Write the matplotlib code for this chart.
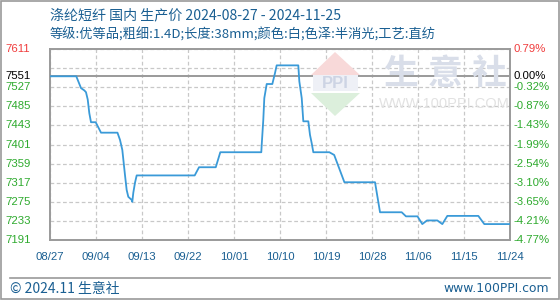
import matplotlib
matplotlib.use("Agg")
import matplotlib.pyplot as plt
import matplotlib.transforms as mtrans
from matplotlib.patches import Polygon, Rectangle
from matplotlib.lines import Line2D

# ---------------- data ----------------
title = "涤纶短纤 国内 生产价 2024-08-27 - 2024-11-25"
subtitle = "等级:优等品;粗细:1.4D;长度:38mm;颜色:白;色泽:半消光;工艺:直纺"

x_labels = ["08/27", "09/04", "09/13", "09/22", "10/01", "10/10",
            "10/19", "10/28", "11/06", "11/15", "11/24"]

# positions along the axis (axis runs 0 .. 90, one tick every 9 units)
pos = [0, 5.14, 6.07, 6.71, 7.04, 7.38, 7.69, 8.02, 8.94, 9.98, 13.2,
       13.7, 14.15, 14.67, 15.0, 15.32, 15.99, 16.1, 16.3, 16.63, 16.96,
       28.31, 29.16, 32.43, 33.32, 41.34, 41.42, 41.73, 41.93, 42.4, 43.5,
       44.02, 44.35, 48.58, 48.78, 49.25, 49.56, 50.54, 50.87, 51.2, 51.52,
       54.65, 55.6, 57.6, 63.59, 64.57, 68.81, 69.65, 71.9, 72.84, 73.76,
       75.78, 76.76, 77.74, 83.8, 84.97, 90]
prices = [7551, 7551, 7525, 7520, 7516, 7500, 7470, 7450, 7450, 7427, 7427,
          7411, 7389, 7334, 7301, 7286, 7279, 7275, 7295, 7317, 7333,
          7333, 7351, 7351, 7384, 7384, 7400, 7455, 7503, 7534, 7534,
          7558, 7575, 7575, 7540, 7503, 7452, 7452, 7422, 7404, 7384,
          7384, 7378, 7318, 7318, 7252, 7252, 7243, 7243, 7226, 7234,
          7234, 7226, 7244, 7244, 7226, 7226]

base_price = 7551
y_ticks = [7191, 7233, 7275, 7317, 7359, 7401, 7443, 7485, 7527, 7569, 7611]
left_labels = ["7191", "7233", "7275", "7317", "7359", "7401", "7443",
               "7485", "7527", "", "7611"]
right_labels = ["-4.77%", "-4.21%", "-3.65%", "-3.10%", "-2.54%", "-1.99%",
                "-1.43%", "-0.87%", "-0.32%", "", "0.79%"]

# ---------------- style ----------------
W, H = 560, 300
BLUE_TXT = "#1a5f92"
GREEN = "#2eaa2e"
RED = "#f03c3c"
LINE = "#3a9ad8"
GRID = "#c8c8c8"
SPINE = "#9a9a9a"
CJK = ["Noto Sans CJK SC", "DejaVu Sans"]
LAT = ["Liberation Sans", "DejaVu Sans"]

fig = plt.figure(figsize=(W / 100, H / 100), dpi=100)
fig.patch.set_facecolor("white")

L, R, T, B = 50, 510, 49, 240
ax = fig.add_axes([L / W, 1 - B / H, (R - L) / W, (B - T) / H])
ax.set_facecolor("none")

ax.set_xlim(0, 90)
ax.set_ylim(y_ticks[0], y_ticks[-1])


def fx(px):
    return px / W


def fy(py):
    return 1 - py / H


# watermark (behind everything)
fig.patches.append(Polygon([(fx(311), fy(75)), (fx(360), fy(75)), (fx(335), fy(52))],
                           closed=True, transform=fig.transFigure,
                           facecolor="#f8d9d9", edgecolor="none", zorder=0))
fig.patches.append(Rectangle((fx(313), fy(91)), 45 / W, 16 / H, transform=fig.transFigure,
                             facecolor="#eef0f6", edgecolor="none", zorder=0))
fig.text(fx(335.5), fy(83.5), "PPI", ha="center", va="center",
         fontsize=12, color="#cdd4e4", fontweight="bold", family=LAT, zorder=0)
fig.patches.append(Polygon([(fx(311), fy(93)), (fx(360), fy(93)), (fx(335), fy(116))],
                           closed=True, transform=fig.transFigure,
                           facecolor="#dcefdc", edgecolor="none", zorder=0))
for ch, cx in zip("生意社", [401, 445, 489]):
    fig.text(fx(cx), fy(73), ch, ha="center", va="center", fontsize=25,
             color="#d9dee9", family=CJK, fontweight="bold", zorder=0)
fig.text(fx(444), fy(104), "WWW.100PPI.COM", ha="center", va="center",
         fontsize=10.5, color="#e2e2e2", family=LAT, zorder=0)

# grid
ax.set_yticks(y_ticks)
ax.set_xticks(list(range(0, 91, 9)))
ax.grid(True, color=GRID, linestyle=(0, (3, 2)), linewidth=0.9, zorder=1)
ax.tick_params(left=False, bottom=False, labelleft=False, labelbottom=False)

# reference line
ax.axhline(base_price, color=SPINE, linewidth=1.4, zorder=2)

# data line
ax.plot(pos, prices, color=LINE, linewidth=1.3, zorder=3)

for s in ax.spines.values():
    s.set_color(SPINE)
    s.set_linewidth(1.4)

# y tick labels (left: price, right: change vs base)
lr_tr = mtrans.blended_transform_factory(fig.transFigure, ax.transData)
for v, lab, rlab in zip(y_ticks, left_labels, right_labels):
    if not lab:
        continue
    col = RED if v == y_ticks[-1] else GREEN
    ax.text(5 / W, v, lab, transform=lr_tr, ha="left", va="center",
            fontsize=8.2, color=col, family=LAT)
    ax.text(514 / W, v, rlab, transform=lr_tr, ha="left", va="center",
            fontsize=8.2, color=col, family=LAT)
ax.text(5 / W, base_price, str(base_price), transform=lr_tr, ha="left", va="center",
        fontsize=8.2, color="black", family=LAT)
ax.text(514 / W, base_price, "0.00%", transform=lr_tr, ha="left", va="center",
        fontsize=8.2, color="black", family=LAT)

# x tick labels
x_tr = mtrans.blended_transform_factory(ax.transData, fig.transFigure)
for i, lab in enumerate(x_labels):
    ax.text(i * 9, fy(257), lab, transform=x_tr, ha="center", va="center",
            fontsize=8.2, color=BLUE_TXT, family=LAT)

# titles
fig.text(fx(50), fy(15), title, ha="left", va="center", fontsize=10.1,
         color=BLUE_TXT, family=CJK)
fig.text(fx(50), fy(35), subtitle, ha="left", va="center", fontsize=9.5,
         color=BLUE_TXT, family=CJK)

# footer
fig.add_artist(Line2D([fx(10), fx(550)], [fy(277.5), fy(277.5)],
                      transform=fig.transFigure, color=SPINE, linewidth=1.2))
fig.text(fx(10), fy(289), "© 2024.11 生意社", ha="left", va="center",
         fontsize=10, color=BLUE_TXT, family=CJK)
fig.text(fx(549), fy(289), "www.100PPI.com", ha="right", va="center",
         fontsize=8.9, color=BLUE_TXT, family=["DejaVu Sans"])

# outer border
fig.patches.append(Rectangle((0.6 / W, 0.6 / H), (W - 1.2) / W, (H - 1.2) / H,
                             transform=fig.transFigure, fill=False,
                             edgecolor=SPINE, linewidth=1.2, zorder=5))

fig.savefig("out.png", dpi=100, facecolor="white")
